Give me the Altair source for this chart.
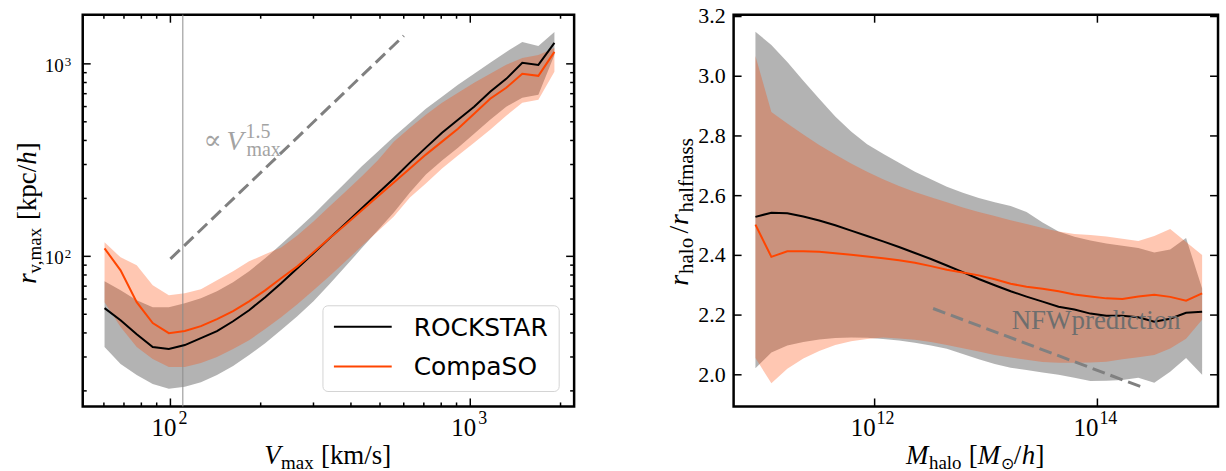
import altair as alt
import pandas as pd

# ---------- left panel: r_vmax against V_max ----------
vmax = [60.3, 68.2, 77.2, 87.3, 98.8, 111.7, 126.4, 143.0, 161.8, 183.0, 207, 234, 265, 300, 339,
        384, 434, 491, 556, 629, 711, 805, 910, 1030, 1165, 1318, 1491, 1687, 1908]
rv_rock_med = [53.8, 46.6, 39.4, 33.8, 33.0, 34.6, 37.6, 40.9, 46.0, 52.5, 61.3, 72.5, 86.7, 103.6, 124.0,
               148.3, 177.3, 212.1, 253.6, 306.9, 367.1, 439.1, 512.7, 598.8, 716, 836, 1012, 988, 1285]
rv_rock_lo = [33.8, 27.6, 24.2, 21.7, 20.5, 21.0, 22.2, 24.2, 26.9, 30.7, 35.4, 41.4, 48.9, 58.4, 71.6,
              88.7, 110.0, 136.4, 169.0, 214.6, 266.0, 314.4, 367.1, 433.9, 512.7, 598.8, 666.6, 690.9, 1113]
rv_rock_hi = [74.2, 66.6, 59.2, 54.4, 54.4, 57.1, 60.6, 65.9, 73.3, 83.6, 97.6, 115.4, 138.0, 165.1, 199.8,
              241.8, 292.6, 349.9, 418.6, 494.8, 584.6, 674.5, 778.5, 887.7, 1012, 1154, 1300, 1240, 1465]
rv_comp_med = [110.0, 84.6, 57.8, 45.0, 39.9, 40.9, 43.4, 47.2, 51.9, 58.4, 66.6, 76.9, 88.7, 104.9, 124.0,
               146.5, 173.1, 204.6, 241.8, 285.8, 337.7, 394.4, 460.6, 550.8, 658.7, 750.9, 887.7, 866.7, 1154]
rv_comp_lo = [57.8, 42.9, 33.8, 29.3, 26.6, 26.6, 27.9, 30.0, 33.0, 36.7, 41.9, 48.3, 56.4, 66.6, 78.8,
              94.2, 112.7, 134.8, 161.2, 202.2, 238.8, 285.8, 333.7, 389.7, 455.0, 537.8, 628.2, 650.9, 908.7]
rv_comp_hi = [118.2, 98.8, 89.8, 70.8, 62.8, 64.3, 67.5, 75.1, 83.6, 94.2, 102.4, 111.3, 128.5, 151.8, 181.6,
              217.2, 259.7, 314.4, 394.4, 466.1, 544.3, 628.2, 707.5, 797.3, 887.7, 988, 1074, 1113, 1210]

vmax_cut = [110]
slope_v = [100, 600]
slope_r = [97, 1400]

# ---------- right panel: r_halo / r_halfmass against M_halo ----------
mhalo = [8.51e10, 1.183e11, 1.645e11, 2.29e11, 3.18e11, 4.43e11, 6.15e11, 8.56e11, 1.19e12, 1.655e12,
         2.30e12, 3.20e12, 4.45e12, 6.19e12, 8.61e12, 1.197e13, 1.664e13, 2.31e13, 3.22e13, 4.48e13,
         6.22e13, 8.65e13, 1.203e14, 1.675e14, 2.33e14, 3.24e14, 4.50e14, 6.25e14, 8.71e14]
q_rock_med = [2.529, 2.543, 2.541, 2.530, 2.517, 2.501, 2.483, 2.465, 2.447, 2.428, 2.408, 2.388, 2.366, 2.344,
              2.321, 2.300, 2.280, 2.262, 2.245, 2.228, 2.219, 2.205, 2.198, 2.198, 2.193, 2.178, 2.188, 2.208, 2.211]
q_rock_lo = [2.022, 2.075, 2.098, 2.110, 2.118, 2.123, 2.125, 2.124, 2.120, 2.115, 2.107, 2.098, 2.087, 2.070,
             2.052, 2.036, 2.024, 2.016, 2.008, 2.000, 1.990, 1.979, 1.980, 1.983, 1.990, 1.973, 2.010, 2.056, 2.000]
q_rock_hi = [3.149, 3.105, 3.048, 2.985, 2.925, 2.865, 2.815, 2.772, 2.740, 2.710, 2.680, 2.655, 2.630, 2.610,
             2.592, 2.578, 2.565, 2.545, 2.510, 2.480, 2.462, 2.450, 2.440, 2.432, 2.425, 2.410, 2.420, 2.458, 2.289]
q_comp_med = [2.503, 2.395, 2.414, 2.414, 2.412, 2.407, 2.402, 2.396, 2.390, 2.384, 2.375, 2.364, 2.352, 2.343,
              2.333, 2.320, 2.305, 2.295, 2.288, 2.280, 2.269, 2.262, 2.256, 2.254, 2.262, 2.268, 2.261, 2.248, 2.273]
q_comp_lo = [2.056, 1.972, 2.020, 2.055, 2.080, 2.100, 2.112, 2.120, 2.125, 2.122, 2.117, 2.110, 2.100, 2.089,
             2.078, 2.066, 2.058, 2.050, 2.043, 2.040, 2.040, 2.041, 2.044, 2.052, 2.059, 2.066, 2.088, 2.121, 2.184]
q_comp_hi = [3.068, 2.880, 2.842, 2.805, 2.770, 2.738, 2.708, 2.680, 2.655, 2.632, 2.612, 2.595, 2.578, 2.560,
             2.545, 2.532, 2.518, 2.505, 2.492, 2.480, 2.472, 2.468, 2.463, 2.456, 2.448, 2.465, 2.488, 2.445, 2.401]

nfw_m = [3.35e12, 2.67e14]
nfw_ratio = [2.222, 1.955]

# ---------- tick positions and labels ----------
v_major = [100, 1000]
v_exp = ["2", "3"]
v_minor = [60, 70, 80, 90, 200, 300, 400, 500, 600, 700, 800, 900, 2000]
r_major = [100, 1000]
r_exp = ["2", "3"]
r_minor = [20, 30, 40, 50, 60, 70, 80, 90, 200, 300, 400, 500, 600, 700, 800, 900]
m_major = [1e12, 1e14]
m_exp = ["12", "14"]
ratio_ticks = [2.0, 2.2, 2.4, 2.6, 2.8, 3.0, 3.2]
ratio_labels = ["2.0", "2.2", "2.4", "2.6", "2.8", "3.0", "3.2"]

# ---------- styling ----------
W1, W2, H = 493, 486, 393
GRAY = "#808080"
ORANGE = "#ff4500"
SERIF = "Liberation Serif"
SANS = "DejaVu Sans"
MAJ, MINL = 8, 4

sx1 = alt.Scale(type="log", domain=[51, 2220], nice=False)
sy1 = alt.Scale(type="log", domain=[16.6, 1800], nice=False)
sx2 = alt.Scale(type="log", domain=[5.42e10, 1.21e15], nice=False)
sy2 = alt.Scale(domain=[1.894, 3.206], nice=False, zero=False)


def qx(field, scale):
    return alt.X(field, type="quantitative", scale=scale, axis=None)


def qy(field, scale):
    return alt.Y(field, type="quantitative", scale=scale, axis=None)


def one_row():
    return pd.DataFrame({"k": [0]})


def piece(txt, x, y, size, italic=False, angle=0, font=SERIF, color="black"):
    return alt.Chart(one_row()).mark_text(
        text=txt, font=font, fontSize=size, fontStyle="italic" if italic else "normal",
        align="left", baseline="alphabetic", angle=angle, color=color,
    ).encode(x=alt.value(x), y=alt.value(y))


def band_layers(df, xf, sx, sy):
    base = alt.Chart(df)
    gray = base.mark_area(color=GRAY, opacity=0.6).encode(
        x=qx(xf, sx), y=qy("rock_lo", sy), y2="rock_hi")
    orange = base.mark_area(color=ORANGE, opacity=0.3).encode(
        x=qx(xf, sx), y=qy("comp_lo", sy), y2="comp_hi")
    return gray, orange


def median_lines(df, xf, sx, sy):
    base = alt.Chart(df)
    black = base.mark_line(color="black", strokeWidth=2).encode(x=qx(xf, sx), y=qy("rock_med", sy))
    red = base.mark_line(color=ORANGE, strokeWidth=2).encode(x=qx(xf, sx), y=qy("comp_med", sy))
    return black, red


def x_ticks(vals, sx, W, length):
    base = alt.Chart(pd.DataFrame({"t": vals})).mark_rule(color="black", strokeWidth=1.5)
    return [
        base.encode(x=qx("t", sx), y=alt.value(H), y2=alt.value(H - length)),
        base.encode(x=qx("t", sx), y=alt.value(0), y2=alt.value(length)),
    ]


def y_ticks(vals, sy, W, length):
    base = alt.Chart(pd.DataFrame({"t": vals})).mark_rule(color="black", strokeWidth=1.5)
    return [
        base.encode(y=qy("t", sy), x=alt.value(0), x2=alt.value(length)),
        base.encode(y=qy("t", sy), x=alt.value(W), x2=alt.value(W - length)),
    ]


def pow_x_labels(vals, exps, sx, base_dx, exp_dx):
    df = pd.DataFrame({"t": vals, "e": exps})
    base = alt.Chart(df).mark_text(font=SERIF, fontSize=25, align="right", baseline="alphabetic",
                                   dx=base_dx, text="10").encode(x=qx("t", sx), y=alt.value(H + 30))
    sup = alt.Chart(df).mark_text(font=SERIF, fontSize=18, align="left", baseline="alphabetic",
                                  dx=exp_dx).encode(x=qx("t", sx), y=alt.value(H + 18), text="e:N")
    return [base, sup]


def pow_y_labels(vals, exps, sy):
    df = pd.DataFrame({"t": vals, "e": exps})
    base = alt.Chart(df).mark_text(font=SERIF, fontSize=19, align="right", baseline="alphabetic",
                                   dy=8, text="10").encode(y=qy("t", sy), x=alt.value(-19))
    sup = alt.Chart(df).mark_text(font=SERIF, fontSize=13, align="left", baseline="alphabetic",
                                  dy=2).encode(y=qy("t", sy), x=alt.value(-18), text="e:N")
    return [base, sup]


# ================= left panel =================
left = pd.DataFrame({
    "v": vmax,
    "rock_med": rv_rock_med, "rock_lo": rv_rock_lo, "rock_hi": rv_rock_hi,
    "comp_med": rv_comp_med, "comp_lo": rv_comp_lo, "comp_hi": rv_comp_hi,
})
g1, o1 = band_layers(left, "v", sx1, sy1)
b1, r1 = median_lines(left, "v", sx1, sy1)

cut = alt.Chart(pd.DataFrame({"v": vmax_cut})).mark_rule(color="#8c8c8c", strokeWidth=1).encode(
    x=qx("v", sx1), y=alt.value(0), y2=alt.value(H))

slope = alt.Chart(pd.DataFrame({"v": slope_v, "r": slope_r})).mark_line(
    color=GRAY, strokeWidth=3, strokeDash=[13, 6]).encode(x=qx("v", sx1), y=qy("r", sy1))

slope_anchor = pd.DataFrame({"v": [130], "r": [356]})


def slope_text(txt, size, dx, dy, italic=False, font=SERIF):
    return alt.Chart(slope_anchor).mark_text(
        text=txt, font=font, fontSize=size, fontStyle="italic" if italic else "normal",
        align="left", baseline="alphabetic", dx=dx, dy=dy, color="#a3a3a3",
    ).encode(x=qx("v", sx1), y=qy("r", sy1))


slope_label = [
    slope_text("∝", 27, -1, -1, font="DejaVu Serif"),
    slope_text("V", 28, 22, 0, italic=True),
    slope_text("1.5", 20, 41, -12),
    slope_text("max", 20, 42, 6),
]

legend_box = alt.Chart(one_row()).mark_rect(
    fill="white", fillOpacity=0.8, stroke="#d4d4d4", strokeWidth=1, cornerRadius=5).encode(
    x=alt.value(241), x2=alt.value(478), y=alt.value(292), y2=alt.value(378))
legend_black = alt.Chart(one_row()).mark_rule(color="black", strokeWidth=2).encode(
    x=alt.value(252), x2=alt.value(310), y=alt.value(313))
legend_red = alt.Chart(one_row()).mark_rule(color=ORANGE, strokeWidth=2).encode(
    x=alt.value(252), x2=alt.value(310), y=alt.value(353))
legend_t1 = alt.Chart(one_row()).mark_text(
    text="ROCKSTAR", font=SANS, fontSize=25, align="left", baseline="middle").encode(
    x=alt.value(332), y=alt.value(314))
legend_t2 = alt.Chart(one_row()).mark_text(
    text="CompaSO", font=SANS, fontSize=25, align="left", baseline="middle").encode(
    x=alt.value(332), y=alt.value(353))

left_title = [
    piece("V", 182, 451, 27, italic=True),
    piece("max", 199, 456, 19),
    piece("[km/s]", 239, 451, 27),
    piece("r", -47, 270, 27, italic=True, angle=270),
    piece("v,max", -42, 259.5, 19, angle=270),
    piece("[kpc/", -47, 206, 27, angle=270),
    piece("h", -47, 150.5, 27, italic=True, angle=270),
    piece("]", -47, 137, 27, angle=270),
]

# keeps the outer margin of the figure on the left
left_margin = alt.Chart(one_row()).mark_rect(opacity=0).encode(
    x=alt.value(-81), x2=alt.value(-80), y=alt.value(-12), y2=alt.value(H + 66))

left_panel = alt.layer(
    g1, o1, cut, slope, b1, r1,
    *x_ticks(v_major, sx1, W1, MAJ), *x_ticks(v_minor, sx1, W1, MINL),
    *y_ticks(r_major, sy1, W1, MAJ), *y_ticks(r_minor, sy1, W1, MINL),
    *pow_x_labels(v_major, v_exp, sx1, 6, 8),
    *pow_y_labels(r_major, r_exp, sy1),
    *slope_label,
    legend_box, legend_black, legend_red, legend_t1, legend_t2,
    *left_title, left_margin,
).properties(width=W1, height=H)

# ================= right panel =================
right = pd.DataFrame({
    "m": mhalo,
    "rock_med": q_rock_med, "rock_lo": q_rock_lo, "rock_hi": q_rock_hi,
    "comp_med": q_comp_med, "comp_lo": q_comp_lo, "comp_hi": q_comp_hi,
})
g2, o2 = band_layers(right, "m", sx2, sy2)
b2, r2 = median_lines(right, "m", sx2, sy2)

nfw = alt.Chart(pd.DataFrame({"m": nfw_m, "q": nfw_ratio})).mark_line(
    color=GRAY, strokeWidth=3, strokeDash=[13, 6]).encode(x=qx("m", sx2), y=qy("q", sy2))
nfw_label = alt.Chart(pd.DataFrame({"m": [1.70e13], "q": [2.155]})).mark_text(
    text="NFWprediction", font=SERIF, fontSize=27, align="left", baseline="alphabetic",
    color="#6e6e6e").encode(x=qx("m", sx2), y=qy("q", sy2))

ratio_df = pd.DataFrame({"t": ratio_ticks, "lab": ratio_labels})
ratio_text = alt.Chart(ratio_df).mark_text(
    font=SERIF, fontSize=22, align="right", baseline="middle").encode(
    y=qy("t", sy2), x=alt.value(-8), text="lab:N")

right_title = [
    piece("M", 173, 451, 27, italic=True),
    piece("halo", 196, 456, 19),
    piece("[", 236, 451, 27),
    piece("M", 245, 451, 27, italic=True),
    piece("⊙", 268, 456, 16),
    piece("/", 281, 451, 27),
    piece("h", 289, 451, 27, italic=True),
    piece("]", 303, 451, 27),
    piece("r", -46, 272, 28, italic=True, angle=270),
    piece("halo", -41, 260, 21, angle=270),
    piece("/", -46, 219.5, 28, angle=270),
    piece("r", -46, 211, 28, italic=True, angle=270),
    piece("halfmass", -41, 198.5, 21, angle=270),
]

right_margin = alt.Chart(one_row()).mark_rect(opacity=0).encode(
    x=alt.value(W2 + 5), x2=alt.value(W2 + 6), y=alt.value(-12), y2=alt.value(H + 66))

right_panel = alt.layer(
    g2, o2, nfw, b2, r2,
    *x_ticks(m_major, sx2, W2, MAJ),
    *y_ticks(ratio_ticks, sy2, W2, MAJ),
    *pow_x_labels(m_major, m_exp, sx2, 1, 2),
    ratio_text, nfw_label,
    *right_title, right_margin,
).properties(width=W2, height=H)

chart = alt.hconcat(left_panel, right_panel, spacing=160, bounds="flush").properties(
    padding=0, background="white"
).configure_view(stroke="black", strokeWidth=2.5)

chart.save("out.html", embed_options={"renderer": "svg", "actions": False})
